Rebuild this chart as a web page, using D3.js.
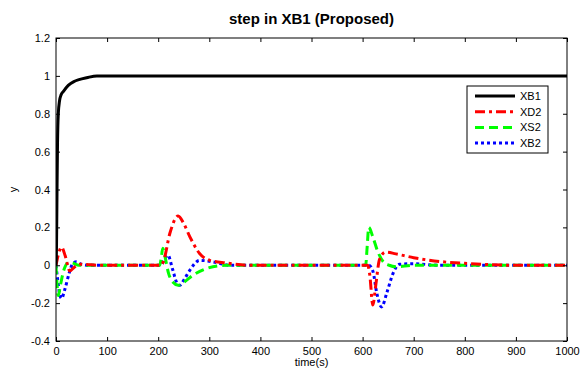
<!doctype html>
<html>
<head>
<meta charset="utf-8">
<script src="https://d3js.org/d3.v7.min.js"></script>
<style>
body { margin: 0; background: #fff; }
svg text { font-family: "Liberation Sans", Arial, sans-serif; }
.axis path { display: none; }
.axis line { stroke: #000; }
.axis text { font-size: 11px; fill: #000; }
</style>
</head>
<body>
<script>
// data: [time, value]
var xTicks = [0, 100, 200, 300, 400, 500, 600, 700, 800, 900, 1000];
var yTicks = [-0.4, -0.2, 0, 0.2, 0.4, 0.6, 0.8, 1, 1.2];
var seriesNames = ["XB1", "XD2", "XS2", "XB2"];

var XB1 = [[0,0],[1,0.1],[2,0.4],[3,0.65],[4.5,0.8],[7,0.87],[10,0.9],[15,0.92],[24,0.95],
  [35,0.97],[45,0.98],[60,0.99],[80,1.0],[1000,1.0]];

var XD2 = [[0,0],[4,0.05],[11,0.095],[18,0.05],[27,-0.03],[36,-0.01],[47,0.005],[60,0.004],[80,0],
  [205,0],[210,0.018],[223,0.17],[239,0.26],[250,0.22],[262,0.15],[281,0.062],[301,0.026],[333,0.012],
  [380,0],[610,0],[614,-0.05],[620,-0.21],[626,-0.1],[633,0.03],[645,0.07],[665,0.06],[700,0.04],
  [750,0.02],[800,0.01],[850,0.003],[900,0],[1000,0]];

var XS2 = [[0,0],[2,-0.1],[4.5,-0.16],[9,-0.1],[16,-0.02],[25,0.015],[32,0.012],[45,0],[60,0],
  [203,0],[206,0.04],[209,0.09],[213,0.05],[220,-0.04],[229,-0.09],[239,-0.106],[250,-0.09],
  [268,-0.053],[294,-0.018],[333,0],[606,0],[609,0.1],[612,0.2],[620,0.15],[630,0.07],[640,0.02],
  [652,0],[665,-0.008],[700,0],[1000,0]];

var XB2 = [[0,0],[3,-0.07],[7,-0.15],[11,-0.175],[17,-0.13],[26,-0.04],[33,0.01],[40,0.018],[50,0.005],
  [65,0],[205,0],[212,0.03],[219,0.053],[228,-0.02],[236,-0.09],[242,-0.106],[252,-0.07],[262,-0.026],
  [281,0.026],[307,0.018],[340,0],[612,0],[620,-0.03],[628,-0.15],[637,-0.22],[648,-0.14],
  [660,-0.04],[672,0.005],[700,0.008],[750,0],[1000,0]];

var series = [XB1, XD2, XS2, XB2];
var colors = ["#000000", "#ff0000", "#00ff00", "#0000ff"];
var dashes = [null, "10,4,3,4", "9,5", "3,3"];

var W = 581, H = 369;
var plotL = 56, plotR = 567, plotT = 38, plotB = 341;

var svg = d3.select("body").append("svg")
  .attr("width", W)
  .attr("height", H);

var x = d3.scaleLinear().domain([0, 1000]).range([plotL, plotR]);
var y = d3.scaleLinear().domain([-0.4, 1.2]).range([plotB, plotT]);

// clip so the thick lines stay inside the box
svg.append("clipPath").attr("id", "clip")
  .append("rect").attr("x", plotL).attr("y", plotT)
  .attr("width", plotR - plotL).attr("height", plotB - plotT);

var line = d3.line()
  .x(function(d) { return x(d[0]); })
  .y(function(d) { return y(d[1]); })
  .curve(d3.curveMonotoneX);

var g = svg.append("g").attr("clip-path", "url(#clip)");
// draw from last to first so the black line sits on top
[3, 2, 1, 0].forEach(function(i) {
  g.append("path")
    .attr("d", line(series[i]))
    .attr("fill", "none")
    .attr("stroke", colors[i])
    .attr("stroke-width", 3)
    .attr("stroke-dasharray", dashes[i]);
});

// axes, ticks pointing in on all four sides
svg.append("g").attr("class", "axis")
  .attr("transform", "translate(0," + plotB + ")")
  .call(d3.axisBottom(x).tickValues(xTicks).tickSize(-4).tickPadding(6).tickFormat(d3.format("d")));
svg.append("g").attr("class", "axis")
  .attr("transform", "translate(0," + plotT + ")")
  .call(d3.axisTop(x).tickValues(xTicks).tickSize(-4).tickFormat(""));
svg.append("g").attr("class", "axis")
  .attr("transform", "translate(" + plotL + ",0)")
  .call(d3.axisLeft(y).tickValues(yTicks).tickSize(-4).tickPadding(6)
    .tickFormat(function(d) { return String(+d.toFixed(1)); }));
svg.append("g").attr("class", "axis")
  .attr("transform", "translate(" + plotR + ",0)")
  .call(d3.axisRight(y).tickValues(yTicks).tickSize(-4).tickFormat(""));

svg.append("rect")
  .attr("x", plotL).attr("y", plotT)
  .attr("width", plotR - plotL).attr("height", plotB - plotT)
  .attr("fill", "none").attr("stroke", "#000").attr("stroke-width", 1);

// title and labels
svg.append("text")
  .attr("x", (plotL + plotR) / 2).attr("y", 24)
  .attr("text-anchor", "middle")
  .style("font-size", "15px").style("font-weight", "bold")
  .text("step in XB1 (Proposed)");

svg.append("text")
  .attr("x", (plotL + plotR) / 2).attr("y", 366)
  .attr("text-anchor", "middle")
  .style("font-size", "11px")
  .text("time(s)");

svg.append("text")
  .attr("transform", "translate(17," + ((plotT + plotB) / 2) + ") rotate(-90)")
  .attr("text-anchor", "middle")
  .style("font-size", "11px")
  .text("y");

// legend
var lg = svg.append("g").attr("transform", "translate(467,86)");
lg.append("rect")
  .attr("width", 81).attr("height", 67)
  .attr("fill", "#fff").attr("stroke", "#000");
seriesNames.forEach(function(name, i) {
  var yy = 10 + i * 15.7;
  lg.append("line")
    .attr("x1", 8).attr("x2", 48).attr("y1", yy).attr("y2", yy)
    .attr("stroke", colors[i]).attr("stroke-width", 3)
    .attr("stroke-dasharray", dashes[i]);
  lg.append("text")
    .attr("x", 53).attr("y", yy + 4)
    .style("font-size", "11px")
    .text(name);
});
</script>
</body>
</html>
